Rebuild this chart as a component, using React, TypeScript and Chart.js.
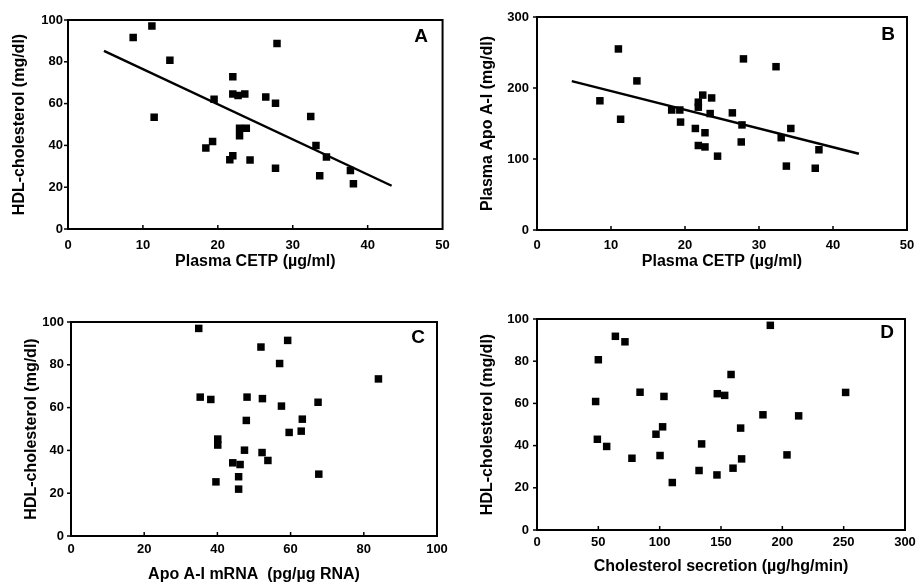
import React, { useEffect, useRef } from "react";
import { Chart, registerables } from "chart.js";

Chart.register(...registerables);

// ---------- Data ----------
// Panel A: HDL-cholesterol vs plasma CETP
const cetpA = [8.7, 11.2, 11.5, 13.6, 18.4, 19.3, 19.5, 21.6, 22.0, 22.0, 22.0, 22.7, 23.6, 22.9, 22.9, 23.8, 24.3, 26.4, 27.7, 27.9, 27.7, 32.4, 33.1, 33.6, 34.5, 37.7, 38.1];
const hdlA = [91.6, 97.1, 53.5, 80.7, 38.7, 41.9, 62.1, 33.1, 35.0, 72.9, 64.6, 63.9, 64.6, 48.2, 44.6, 48.2, 33.0, 63.2, 60.2, 88.7, 29.1, 53.8, 40.0, 25.5, 34.4, 28.0, 21.7];
const fitAX = [4.8, 43.2];
const fitAY = [85.2, 20.7];

// Panel B: plasma Apo A-I vs plasma CETP
const cetpB = [8.5, 11.0, 11.3, 13.5, 18.2, 19.3, 19.4, 21.4, 21.8, 21.8, 21.8, 22.4, 22.7, 22.7, 23.6, 23.4, 24.4, 26.4, 27.6, 27.7, 27.9, 32.3, 33.0, 33.7, 34.3, 37.6, 38.1];
const apoB = [182, 255, 156, 210, 169, 169, 152, 143, 180, 173, 119, 190, 137, 117, 186, 164, 104, 165, 124, 148, 241, 230, 130, 90, 143, 87, 113];
const fitBX = [4.7, 43.5];
const fitBY = [209.6, 107.4];

// Panel C: HDL-cholesterol vs Apo A-I mRNA
const mrnaC = [34.9, 35.3, 38.2, 40.1, 40.1, 39.6, 44.2, 46.2, 45.8, 45.8, 47.4, 47.9, 48.1, 51.9, 52.2, 52.3, 53.8, 57.0, 57.5, 59.2, 59.6, 62.9, 63.2, 67.5, 67.7, 84.0];
const hdlC = [97.0, 64.9, 63.8, 45.3, 42.5, 25.3, 34.2, 33.4, 27.7, 21.9, 40.1, 54.0, 64.9, 88.3, 39.0, 64.2, 35.3, 80.6, 60.7, 91.4, 48.4, 49.0, 54.6, 62.5, 28.9, 73.4];

// Panel D: HDL-cholesterol vs cholesterol secretion
const secretionD = [47.8, 49.2, 50.0, 56.8, 63.9, 71.7, 77.4, 84.0, 97.0, 100.3, 102.4, 103.5, 110.3, 132.1, 134.2, 146.7, 147.0, 153.0, 158.2, 159.8, 166.0, 166.8, 184.2, 190.2, 203.8, 213.3, 251.6];
const hdlD = [60.9, 43.0, 80.7, 39.6, 91.8, 89.2, 34.0, 65.3, 45.4, 35.3, 48.9, 63.3, 22.5, 28.2, 40.8, 26.1, 64.6, 63.8, 73.7, 29.3, 48.3, 33.7, 54.6, 97.0, 35.6, 54.1, 65.2];

// Tick labels
const ticksCetp = [0, 10, 20, 30, 40, 50];
const ticksHdl = [0, 20, 40, 60, 80, 100];
const ticksApo = [0, 100, 200, 300];
const ticksMrna = [0, 20, 40, 60, 80, 100];
const ticksSecretion = [0, 50, 100, 150, 200, 250, 300];

// ---------- Styling / layout ----------
const FONT = '"Liberation Sans", Arial, Helvetica, sans-serif';
const TICK_SIZE = 13;
const TITLE_SIZE = 16;

type Panel = {
  letter: string;
  xs: number[];
  ys: number[];
  fitX?: number[];
  fitY?: number[];
  xTicks: number[];
  yTicks: number[];
  xTitle: string;
  yTitle: string;
  canvas: { x: number; y: number; w: number; h: number };
  area: { l: number; r: number; t: number; b: number };
  yTitleX: number;
  xTitleY: number;
  xTickY: number;
  yTickRight: number;
  letterPos: { x: number; y: number };
};

const panels: Panel[] = [
  {
    letter: "A", xs: cetpA, ys: hdlA, fitX: fitAX, fitY: fitAY,
    xTicks: ticksCetp, yTicks: ticksHdl,
    xTitle: "Plasma CETP (µg/ml)", yTitle: "HDL-cholesterol (mg/dl)",
    canvas: { x: 0, y: 0, w: 458, h: 292 },
    area: { l: 68, r: 443, t: 20, b: 229 },
    yTitleX: 20, xTitleY: 262, xTickY: 245, yTickRight: 63,
    letterPos: { x: 421, y: 37 },
  },
  {
    letter: "B", xs: cetpB, ys: apoB, fitX: fitBX, fitY: fitBY,
    xTicks: ticksCetp, yTicks: ticksApo,
    xTitle: "Plasma CETP (µg/ml)", yTitle: "Plasma Apo A-I (mg/dl)",
    canvas: { x: 460, y: 0, w: 472, h: 292 },
    area: { l: 537, r: 907, t: 17, b: 230 },
    yTitleX: 488, xTitleY: 262, xTickY: 245, yTickRight: 529,
    letterPos: { x: 888, y: 35 },
  },
  {
    letter: "C", xs: mrnaC, ys: hdlC,
    xTicks: ticksMrna, yTicks: ticksHdl,
    xTitle: "Apo A-I mRNA  (pg/µg RNA)", yTitle: "HDL-cholesterol (mg/dl)",
    canvas: { x: 0, y: 296, w: 458, h: 288 },
    area: { l: 71, r: 437, t: 322, b: 536 },
    yTitleX: 32, xTitleY: 575, xTickY: 549, yTickRight: 64,
    letterPos: { x: 418, y: 338 },
  },
  {
    letter: "D", xs: secretionD, ys: hdlD,
    xTicks: ticksSecretion, yTicks: ticksHdl,
    xTitle: "Cholesterol secretion (µg/hg/min)", yTitle: "HDL-cholesterol (mg/dl)",
    canvas: { x: 460, y: 296, w: 472, h: 288 },
    area: { l: 537, r: 905, t: 319, b: 530 },
    yTitleX: 488, xTitleY: 567, xTickY: 542, yTickRight: 529,
    letterPos: { x: 887, y: 333 },
  },
];

const framePlugin = {
  id: "frameAndLetter",
  afterDraw(chart: any, _args: any, opts: any) {
    const { ctx, chartArea, scales } = chart;
    const { left, right, top, bottom } = chartArea;
    ctx.save();
    ctx.strokeStyle = "#000";
    ctx.lineWidth = 2;
    ctx.strokeRect(left, top, right - left, bottom - top);
    ctx.lineWidth = 1.5;
    // inward x ticks
    scales.x.ticks.forEach((t: any) => {
      const px = scales.x.getPixelForValue(t.value);
      if (px > left + 3 && px < right - 3) {
        ctx.beginPath();
        ctx.moveTo(px, bottom);
        ctx.lineTo(px, bottom - 4);
        ctx.stroke();
      }
    });
    // outward y ticks
    scales.y.ticks.forEach((t: any) => {
      const py = scales.y.getPixelForValue(t.value);
      ctx.beginPath();
      ctx.moveTo(left, py);
      ctx.lineTo(left - 4, py);
      ctx.stroke();
    });
    // panel letter
    ctx.fillStyle = "#000";
    ctx.font = `bold 19px ${FONT}`;
    ctx.textAlign = "center";
    ctx.textBaseline = "middle";
    ctx.fillText(opts.letter, opts.x, opts.y);
    ctx.restore();
  },
};

function PanelChart({ p }: { p: Panel }) {
  const ref = useRef<HTMLCanvasElement | null>(null);
  useEffect(() => {
    if (!ref.current) return;
    const c = p.canvas;
    const a = p.area;
    const titleLh = TITLE_SIZE * 1.2;
    const tickLh = TICK_SIZE * 1.2;
    const Wy = a.l - c.x;
    const Hx = c.y + c.h - a.b;
    const datasets: any[] = [
      {
        type: "scatter",
        data: p.xs.map((x, i) => ({ x, y: p.ys[i] })),
        pointStyle: "rect",
        pointRadius: 5.3,
        pointBorderWidth: 0,
        backgroundColor: "#000",
        borderColor: "#000",
        order: 1,
      },
    ];
    if (p.fitX && p.fitY) {
      datasets.push({
        type: "line",
        data: p.fitX.map((x, i) => ({ x, y: p.fitY![i] })),
        borderColor: "#000",
        borderWidth: 2.4,
        pointRadius: 0,
        fill: false,
        order: 2,
      });
    }
    const xMin = p.xTicks[0];
    const xMax = p.xTicks[p.xTicks.length - 1];
    const yMin = p.yTicks[0];
    const yMax = p.yTicks[p.yTicks.length - 1];
    const chart = new Chart(ref.current, {
      type: "scatter",
      data: { datasets },
      plugins: [framePlugin as any],
      options: {
        animation: false,
        responsive: false,
        devicePixelRatio: window.devicePixelRatio || 1,
        layout: {
          padding: { left: 0, top: a.t - c.y, right: c.x + c.w - a.r, bottom: 0 },
        },
        plugins: {
          legend: { display: false },
          tooltip: { enabled: false },
          frameAndLetter: { letter: p.letter, x: p.letterPos.x - c.x, y: p.letterPos.y - c.y },
        } as any,
        scales: {
          x: {
            type: "linear",
            min: xMin,
            max: xMax,
            grid: { display: false, drawTicks: false },
            border: { display: false },
            afterBuildTicks: (s: any) => {
              s.ticks = p.xTicks.map((v) => ({ value: v }));
            },
            afterFit: (s: any) => {
              s.height = Hx;
            },
            ticks: {
              color: "#000",
              font: { family: FONT, size: TICK_SIZE, weight: "bold" },
              padding: p.xTickY - a.b - tickLh / 2,
              maxRotation: 0,
              autoSkip: false,
            },
            title: {
              display: true,
              text: p.xTitle,
              color: "#000",
              font: { family: FONT, size: TITLE_SIZE, weight: "bold" },
              padding: { top: 0, bottom: c.y + c.h - p.xTitleY - titleLh / 2 },
            },
          },
          y: {
            type: "linear",
            min: yMin,
            max: yMax,
            grid: { display: false, drawTicks: false },
            border: { display: false },
            afterBuildTicks: (s: any) => {
              s.ticks = p.yTicks.map((v) => ({ value: v }));
            },
            afterFit: (s: any) => {
              s.width = Wy;
            },
            ticks: {
              color: "#000",
              font: { family: FONT, size: TICK_SIZE, weight: "bold" },
              padding: a.l - p.yTickRight,
              autoSkip: false,
            },
            title: {
              display: true,
              text: p.yTitle,
              color: "#000",
              font: { family: FONT, size: TITLE_SIZE, weight: "bold" },
              padding: { top: p.yTitleX - c.x - titleLh / 2, bottom: 0 },
            },
          },
        },
      } as any,
    });
    return () => chart.destroy();
  }, [p]);
  const c = p.canvas;
  return (
    <canvas
      ref={ref}
      width={c.w}
      height={c.h}
      style={{ position: "absolute", left: c.x, top: c.y, width: c.w, height: c.h }}
    />
  );
}

export default function App() {
  return (
    <div
      style={{
        position: "fixed",
        left: 0,
        top: 0,
        width: 917,
        height: 584,
        overflow: "hidden",
        background: "#fff",
      }}
    >
      {panels.map((p) => (
        <PanelChart key={p.letter} p={p} />
      ))}
    </div>
  );
}
